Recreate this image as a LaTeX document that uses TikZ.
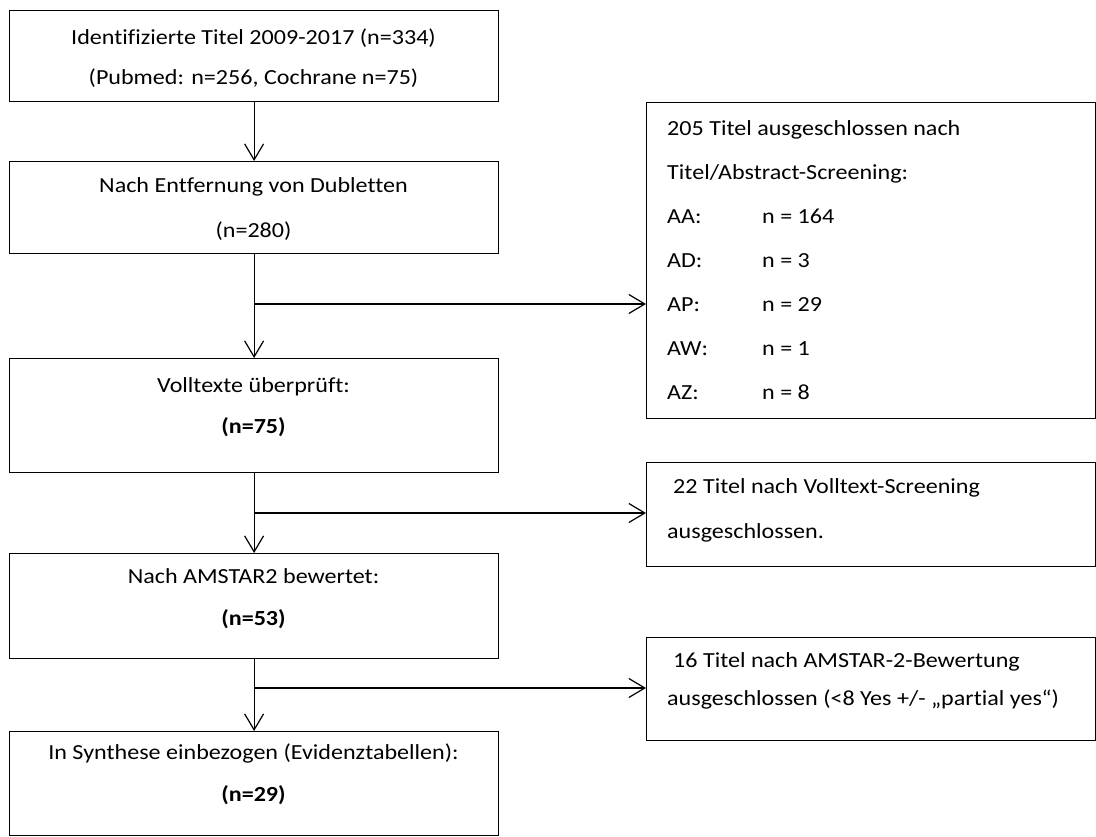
\documentclass[tikz,border=0pt]{standalone}
\usepackage{fontspec}
\setmainfont{Carlito}[FakeStretch=1.12,Ligatures=NoCommon]
\usetikzlibrary{arrows.meta}
\begin{document}
\begin{tikzpicture}[x=1pt,y=-1pt,
  box/.style={draw=black, line width=1.2pt, inner sep=0pt, anchor=north west},
  txt/.style={inner sep=0pt, align=center},
  ltxt/.style={inner sep=0pt, align=left, anchor=west},
  arr/.style={line width=1.2pt, -{Straight Barb[length=16pt,width=19pt,line width=1.2pt]}},
  ln/.style={line width=1.2pt}]
\useasboundingbox (0,0) rectangle (1096,837);
% left column boxes
\node[box, minimum width=489pt, minimum height=91pt]  (b1) at (9,10) {};
\node[box, minimum width=489pt, minimum height=92pt]  (b2) at (9,161) {};
\node[box, minimum width=489pt, minimum height=114pt] (b3) at (9,358) {};
\node[box, minimum width=489pt, minimum height=105pt] (b4) at (9,553) {};
\node[box, minimum width=489pt, minimum height=104pt] (b5) at (9,731) {};
% right column boxes
\node[box, minimum width=449pt, minimum height=316pt] (r1) at (646,102) {};
\node[box, minimum width=449pt, minimum height=104pt] (r2) at (646,462) {};
\node[box, minimum width=449pt, minimum height=103pt] (r3) at (646,637) {};
% texts
\node[txt, font=\fontsize{21.5}{40}\selectfont] (t1) at (253.5,58)
  {Identifizierte Titel 2009-2017 (n=334)\\(Pubmed: n=256, Cochrane n=75)};
\node[txt, font=\fontsize{21.5}{45}\selectfont] (t2) at (253.5,209.5)
  {Nach Entfernung von Dubletten\\(n=280)};
\node[txt, font=\fontsize{21.5}{41}\selectfont] (t3) at (253.5,407.5)
  {Volltexte überprüft:\\\textbf{(n=75)}};
\node[txt, font=\fontsize{21.5}{42}\selectfont] (t4) at (253.5,599)
  {Nach AMSTAR2 bewertet:\\\textbf{(n=53)}};
\node[txt, font=\fontsize{21.5}{42}\selectfont] (t5) at (253.5,774)
  {In Synthese einbezogen (Evidenztabellen):\\\textbf{(n=29)}};
\node[ltxt, font=\fontsize{21.5}{44}\selectfont] (s1) at (667,260)
  {205 Titel ausgeschlossen nach\\
   Titel/Abstract-Screening:\\
   \makebox[95pt][l]{AA:}n = 164\\
   \makebox[95pt][l]{AD:}n = 3\\
   \makebox[95pt][l]{AP:}n = 29\\
   \makebox[95pt][l]{AW:}n = 1\\
   \makebox[95pt][l]{AZ:}n = 8};
\node[ltxt, font=\fontsize{21.5}{45}\selectfont] (s2) at (667,510.5)
  {\hspace*{6pt}22 Titel nach Volltext-Screening\\ausgeschlossen.};
\node[ltxt, font=\fontsize{21.5}{38}\selectfont] (s3) at (667,681)
  {\hspace*{6pt}16 Titel nach AMSTAR-2-Bewertung\\ausgeschlossen (<8 Yes +/- „partial yes“)};
% junctions
\coordinate (j1) at (253.5,304);
\coordinate (j2) at (253.5,513);
\coordinate (j3) at (253.5,688);
% connectors
\draw[arr] (b1.south) -- (b2.north);
\draw[arr] (b2.south) -- (b3.north);
\draw[arr] (b3.south) -- (b4.north);
\draw[arr] (b4.south) -- (b5.north);
\draw[arr] (j1) -- (j1 -| r1.west);
\draw[arr] (j2) -- (j2 -| r2.west);
\draw[arr] (j3) -- (j3 -| r3.west);
\end{tikzpicture}
\end{document}
